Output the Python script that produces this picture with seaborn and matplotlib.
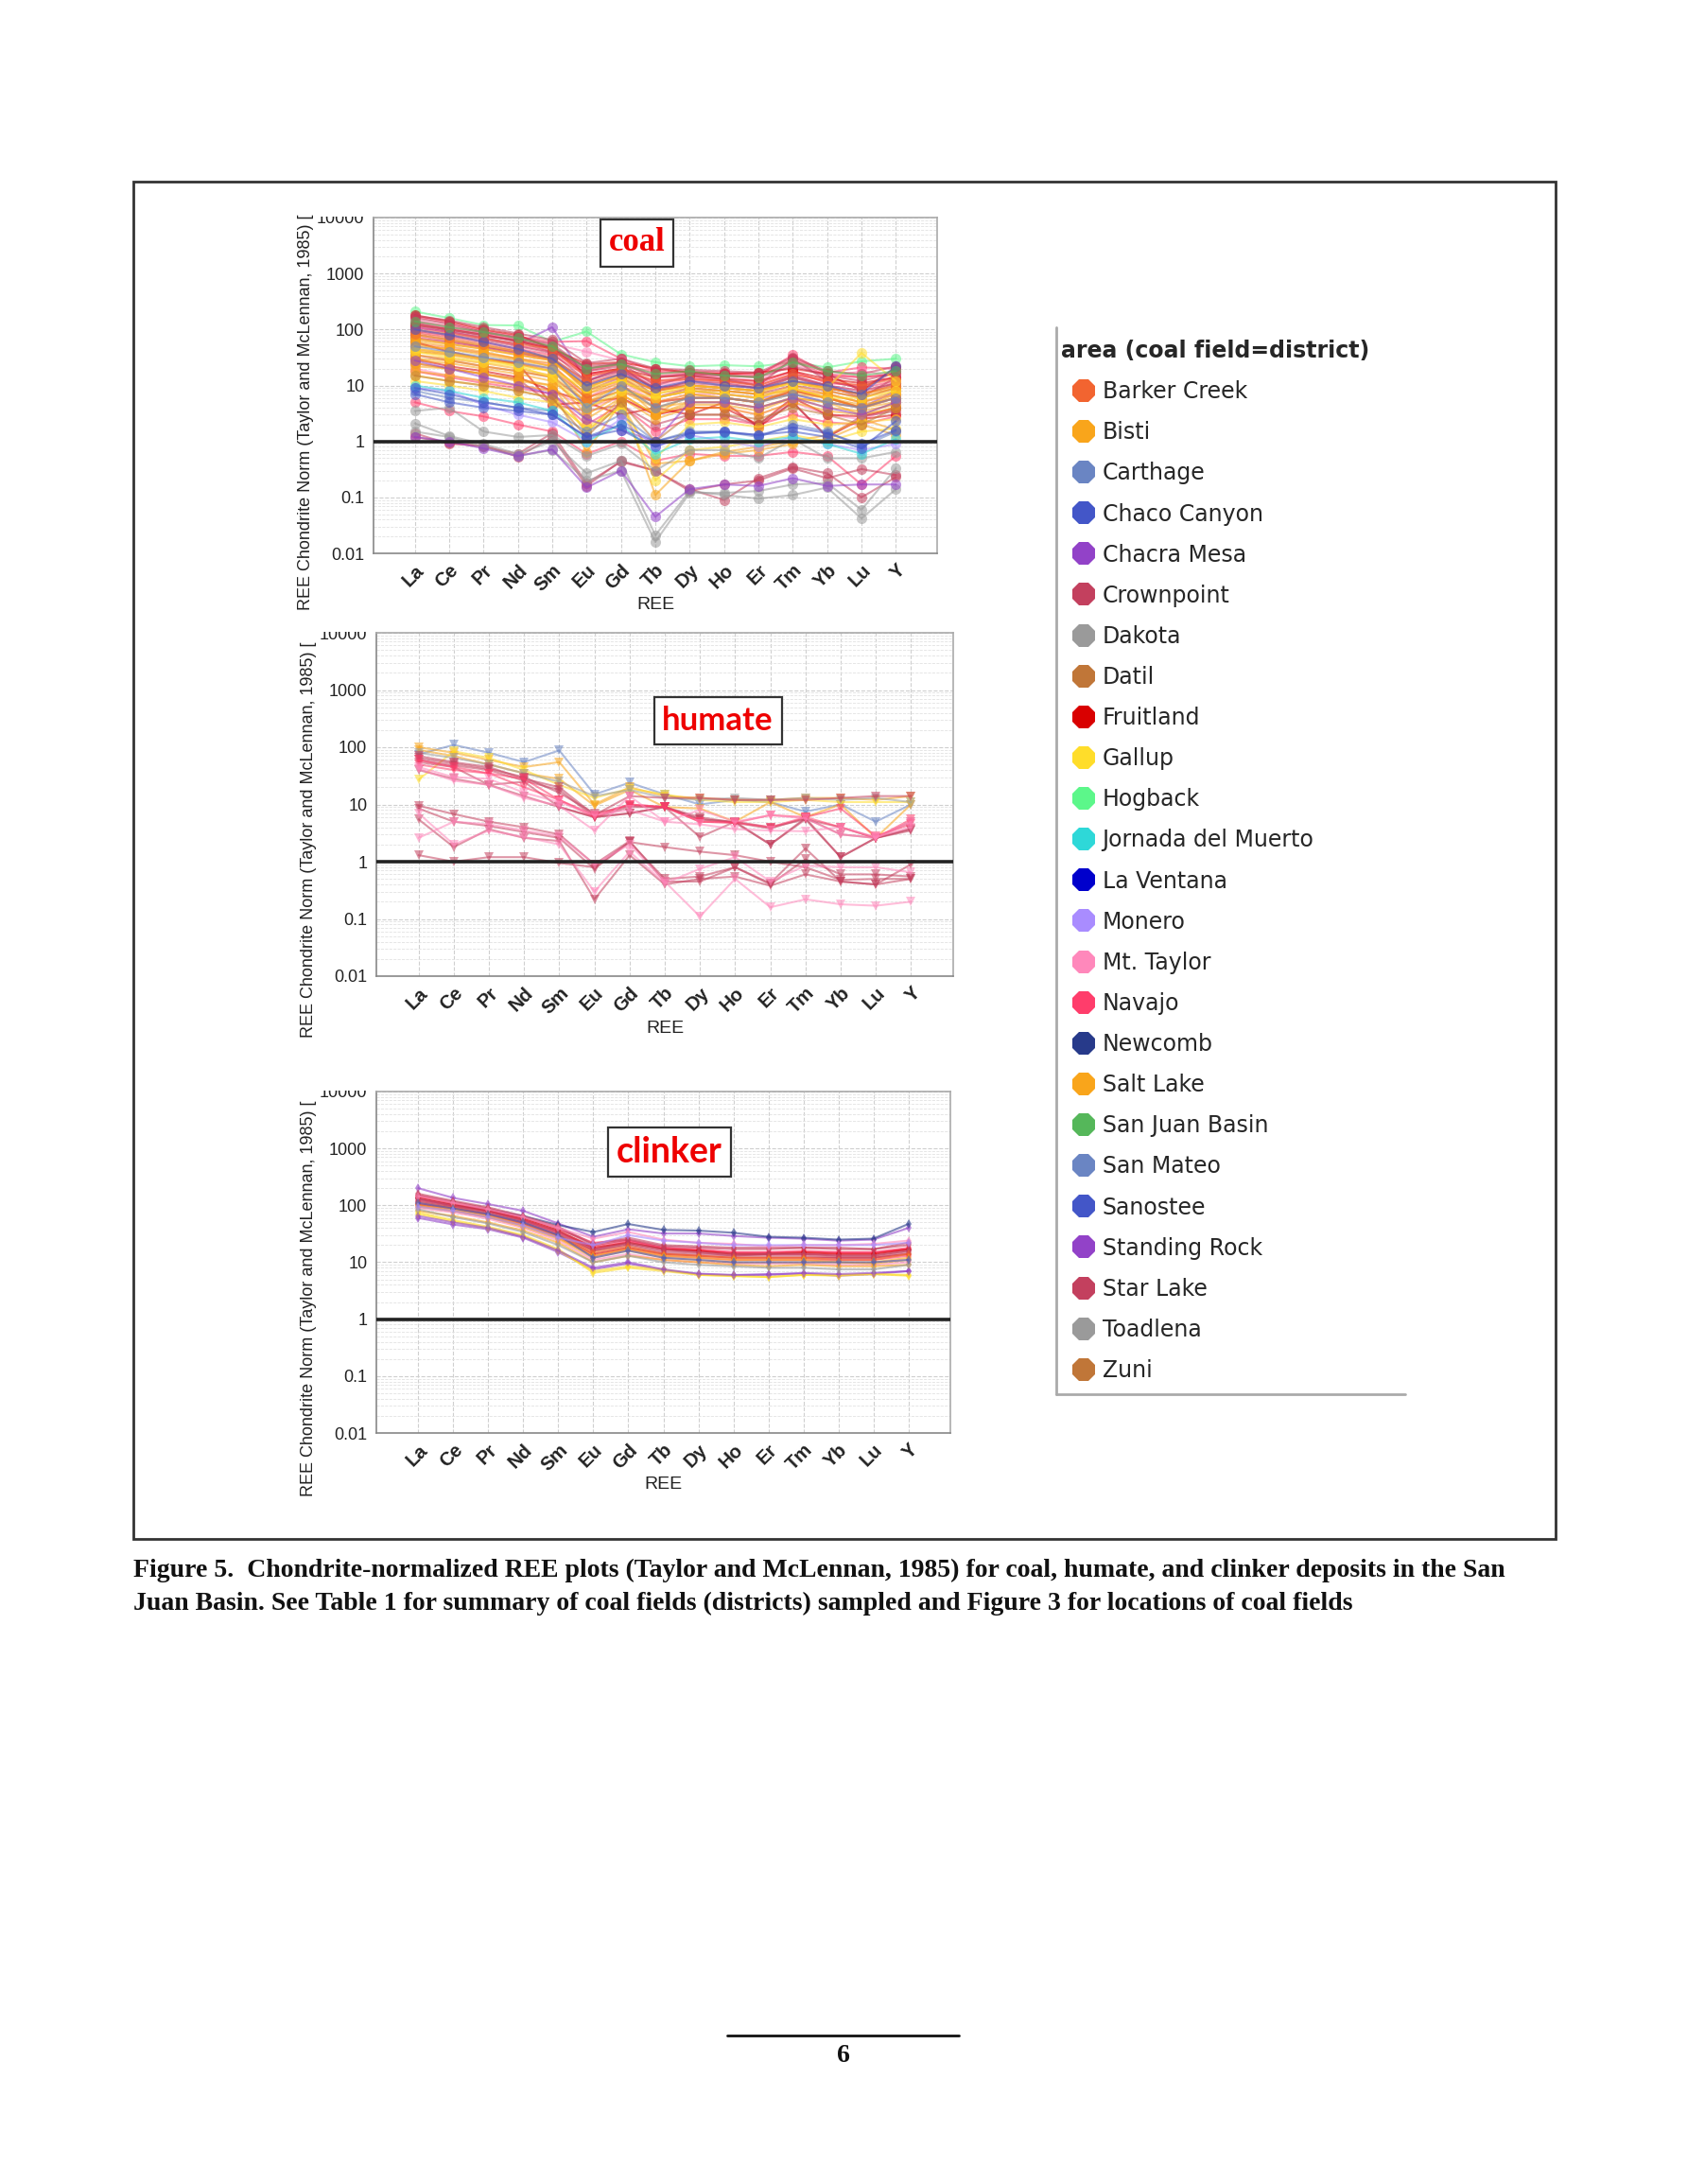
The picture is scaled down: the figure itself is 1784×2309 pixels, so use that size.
import numpy as np
import pandas as pd
import seaborn as sns
import matplotlib.pyplot as plt
from matplotlib.lines import Line2D
from matplotlib.patches import Rectangle
from matplotlib.transforms import Bbox, TransformedBbox

# REE order on the x axis
ree = ['La', 'Ce', 'Pr', 'Nd', 'Sm', 'Eu', 'Gd', 'Tb', 'Dy', 'Ho', 'Er', 'Tm', 'Yb', 'Lu', 'Y']
y_ticks = [0.01, 0.1, 1, 10, 100, 1000, 10000]
y_tick_labels = ['0.01', '0.1', '1', '10', '100', '1000', '10000']

areas = ['Barker Creek', 'Bisti', 'Carthage', 'Chaco Canyon', 'Chacra Mesa', 'Crownpoint',
         'Dakota', 'Datil', 'Fruitland', 'Gallup', 'Hogback', 'Jornada del Muerto',
         'La Ventana', 'Monero', 'Mt. Taylor', 'Navajo', 'Newcomb', 'Salt Lake',
         'San Juan Basin', 'San Mateo', 'Sanostee', 'Standing Rock', 'Star Lake',
         'Toadlena', 'Zuni']
area_colors = ['#f26430', '#f9a51b', '#6a85c3', '#4356c8', '#9242c8', '#c3405e',
               '#9a9a9a', '#c07638', '#d90000', '#ffdd2a', '#5cf78a', '#2ed8d8',
               '#0000cc', '#a98cff', '#ff88bb', '#ff3d6b', '#273a8a', '#f9a51b',
               '#55b75a', '#6a85c3', '#4356c8', '#9242c8', '#c3405e', '#9a9a9a',
               '#c07638']

# coal samples (chondrite normalised, order as ree)
coal_area = ['Hogback', 'Standing Rock', 'Navajo', 'Mt. Taylor', 'Fruitland', 'Crownpoint',
             'Star Lake', 'Bisti', 'Salt Lake', 'Barker Creek', 'Bisti', 'Salt Lake', 'Gallup',
             'Navajo', 'Crownpoint', 'Fruitland', 'Star Lake', 'Mt. Taylor', 'Carthage',
             'Sanostee', 'Dakota', 'Toadlena', 'Dakota', 'Chacra Mesa', 'Star Lake',
             'Crownpoint', 'Navajo', 'Monero', 'Gallup', 'Bisti', 'Salt Lake',
             'San Juan Basin', 'Jornada del Muerto', 'Datil', 'Barker Creek', 'Bisti',
             'Salt Lake', 'Star Lake', 'Navajo', 'Fruitland', 'Crownpoint', 'Chacra Mesa',
             'Gallup', 'Mt. Taylor', 'Bisti', 'Salt Lake', 'Chaco Canyon', 'Navajo',
             'Navajo', 'Star Lake', 'Crownpoint', 'Bisti', 'Salt Lake', 'Barker Creek',
             'Gallup', 'Fruitland', 'Mt. Taylor', 'Bisti', 'Salt Lake', 'Navajo',
             'Chaco Canyon', 'San Mateo', 'Star Lake']
coal_vals = [
    [210, 160, 120, 118, 60, 92, 36, 26, 22, 23, 22, 26, 21, 27, 30],
    [110, 90, 70, 55, 110, 12, 20, 6, 8, 7, 6, 7, 5, 4, 8],
    [170, 130, 95, 75, 60, 62, 30, 18, 18, 17, 16, 30, 17, 21, 20],
    [150, 110, 85, 70, 55, 40, 28, 14, 16, 14, 12, 25, 14, 18, 15],
    [180, 140, 100, 80, 45, 24, 26, 20, 17, 16, 17, 20, 16, 8, 21],
    [130, 100, 80, 60, 40, 22, 25, 10, 15, 13, 10, 30, 12, 9, 18],
    [120, 95, 75, 65, 48, 18, 22, 8, 12, 11, 9, 15, 10, 6, 14],
    [60, 50, 40, 30, 25, 10, 14, 7, 9, 8, 7, 12, 8, 6, 9],
    [70, 55, 45, 35, 28, 8, 12, 6, 8, 7, 6, 10, 7, 5, 8],
    [45, 38, 30, 25, 20, 6, 10, 5, 6, 6, 5, 8, 6, 4, 6],
    [35, 30, 25, 20, 15, 5, 8, 4, 5, 5, 4, 6, 5, 3, 5],
    [55, 45, 38, 30, 22, 7, 11, 3, 7, 6, 5, 9, 6, 4, 7],
    [40, 32, 26, 22, 18, 9, 12, 7, 10, 9, 8, 11, 9, 38, 12],
    [90, 75, 60, 45, 35, 15, 18, 12, 14, 12, 11, 18, 11, 10, 14],
    [25, 20, 16, 13, 4.5, 3.5, 4.5, 2, 3, 3, 2, 5, 1.2, 2.8, 3.5],
    [30, 22, 18, 14, 8, 5, 6, 3, 4, 4, 2, 6, 3, 2.8, 4],
    [80, 65, 50, 40, 30, 12, 20, 9, 10, 9, 8, 14, 9, 7, 11],
    [20, 15, 12, 10, 8, 4, 6, 3, 4, 4, 3, 5, 3, 2.5, 4],
    [8, 6, 5, 4, 3.5, 1.5, 3, 1, 1.5, 1.5, 1.2, 2, 1.5, 0.8, 1.5],
    [100, 80, 60, 45, 30, 10, 16, 9, 12, 10, 9, 12, 10, 7, 22],
    [3.5, 4, 1.5, 1.2, 1.3, 0.55, 0.9, 0.3, 0.7, 0.7, 0.5, 1.1, 0.5, 0.5, 0.65],
    [2.1, 1.25, 0.9, 0.6, 1.0, 0.27, 0.45, 0.021, 0.13, 0.11, 0.095, 0.11, 0.15, 0.042, 0.14],
    [1.5, 1.2, 0.8, 0.55, 0.7, 0.2, 0.3, 0.016, 0.12, 0.12, 0.13, 0.17, 0.18, 0.06, 0.33],
    [1.2, 1.0, 0.75, 0.55, 0.72, 0.15, 0.3, 0.045, 0.14, 0.17, 0.16, 0.22, 0.16, 0.17, 0.17],
    [1.4, 0.9, 0.85, 0.53, 1.2, 0.16, 0.45, 0.3, 0.14, 0.09, 0.22, 0.35, 0.27, 0.1, 0.23],
    [1.2, 0.95, 0.8, 0.6, 1.4, 0.18, 0.43, 0.3, 0.13, 0.17, 0.2, 0.33, 0.22, 0.32, 0.25],
    [5, 3.5, 2.8, 2.0, 1.5, 0.6, 1.0, 0.45, 0.6, 0.55, 0.55, 0.65, 0.55, 0.17, 0.55],
    [9, 8, 4.5, 3, 2.2, 1, 2.5, 0.8, 1.3, 1, 0.8, 1.2, 0.9, 0.7, 0.9],
    [12, 10, 8, 6, 5, 1.8, 4, 0.2, 0.7, 0.8, 1, 1.3, 1, 1.5, 1.7],
    [25, 20, 16, 12, 10, 1.4, 6, 0.11, 0.45, 0.65, 0.8, 1.0, 1.3, 2.5, 1.6],
    [18, 15, 12, 10, 8, 0.65, 5, 0.4, 0.45, 0.6, 0.7, 0.9, 1.1, 2.0, 1.3],
    [140, 110, 90, 70, 50, 20, 24, 16, 18, 15, 14, 26, 18, 15, 18],
    [10, 8, 6, 5, 3.5, 1, 2, 0.6, 1.1, 1.2, 1.0, 1.2, 0.9, 0.6, 1.1],
    [15, 12, 10, 8, 6, 1.2, 5, 1, 3, 3, 2.5, 4, 3, 2, 4],
    [100, 85, 70, 55, 45, 14, 20, 12, 13, 12, 10, 16, 12, 10, 13],
    [50, 45, 35, 28, 22, 7, 13, 6, 8, 8, 7, 8, 7, 5, 7],
    [65, 55, 45, 35, 28, 9, 15, 8, 10, 9, 8, 12, 9, 7, 10],
    [160, 125, 90, 72, 55, 20, 25, 14, 16, 15, 14, 22, 15, 12, 17],
    [110, 90, 70, 52, 40, 16, 20, 11, 13, 12, 10, 16, 12, 9, 12],
    [60, 40, 30, 25, 4.5, 5, 3, 4, 3, 5, 1.8, 5, 1.2, 2.5, 3],
    [35, 28, 22, 18, 14, 5, 8, 5, 6, 6, 5, 8, 6, 4, 6],
    [28, 20, 14, 10, 7, 2.5, 1.6, 1.0, 5, 5, 4, 6, 4, 3, 5],
    [45, 38, 30, 22, 14, 4, 8, 6, 8, 7, 6, 9, 6, 6, 8],
    [75, 60, 48, 38, 28, 10, 18, 10, 12, 11, 9, 15, 10, 8, 11],
    [40, 35, 28, 24, 18, 6, 9, 5, 7, 6, 5, 7, 6, 4, 6],
    [30, 28, 22, 18, 14, 3, 7, 3, 5, 5, 4, 6, 5, 4, 5],
    [7, 5, 4, 3.5, 3, 1.2, 1.6, 0.8, 1.4, 1.45, 1.3, 1.5, 1.2, 0.75, 2.3],
    [130, 105, 85, 62, 45, 18, 24, 17, 17, 16, 15, 35, 16, 14, 16],
    [140, 115, 88, 68, 50, 20, 24, 15, 16, 15, 14, 28, 15, 14, 16],
    [95, 80, 65, 50, 38, 12, 18, 9, 11, 10, 9, 14, 10, 8, 11],
    [70, 60, 48, 38, 30, 8, 14, 6, 9, 8, 7, 10, 8, 6, 9],
    [28, 25, 20, 16, 12, 4, 7, 3, 4.5, 4.5, 3.5, 6, 4, 3.5, 4.5],
    [22, 20, 16, 13, 10, 2.5, 6, 2.5, 4, 4, 3, 5, 3.5, 3, 4],
    [85, 70, 55, 42, 32, 11, 16, 8, 10, 9, 8, 12, 9, 7, 10],
    [15, 12, 10, 8, 6, 1.6, 4, 0.5, 2, 2.2, 1.8, 2.5, 2, 2.2, 2.5],
    [120, 100, 80, 62, 45, 16, 20, 14, 15, 13, 12, 18, 13, 11, 14],
    [55, 48, 38, 30, 24, 6, 12, 5, 7, 7, 6, 9, 7, 5, 7],
    [80, 65, 52, 40, 30, 9, 16, 8, 10, 9, 8, 11, 9, 7, 9],
    [42, 36, 30, 24, 18, 5, 10, 4, 6, 6, 5, 8, 6, 4.5, 6],
    [18, 14, 11, 9, 7, 2, 4.5, 1.5, 2.5, 2.5, 2, 3, 2.2, 2, 2.8],
    [9, 7, 5, 4, 3, 1.2, 2, 1.0, 1.4, 1.5, 1.3, 1.8, 1.4, 0.9, 1.6],
    [50, 40, 32, 26, 20, 4, 10, 4, 6, 6, 5, 7, 5, 4, 6],
    [175, 145, 110, 85, 65, 25, 30, 20, 19, 18, 17, 32, 18, 16, 22],
]

# humate samples
humate_area = ['Carthage', 'Bisti', 'Salt Lake', 'Gallup', 'Dakota', 'Star Lake', 'Crownpoint',
               'Star Lake', 'Navajo', 'Mt. Taylor', 'Crownpoint', 'Star Lake', 'Crownpoint',
               'Star Lake', 'Mt. Taylor', 'Crownpoint', 'Mt. Taylor', 'Star Lake', 'Navajo',
               'Mt. Taylor']
humate_vals = [
    [75, 110, 80, 55, 88, 15, 24, 15, 10, 12, 11, 7.5, 10, 5, 10],
    [100, 80, 60, 45, 55, 10, 20, 14, 13, 12, 12, 13, 13, 12, 14],
    [90, 70, 50, 35, 28, 9.5, 18, 9, 8.5, 5, 11, 6, 10, 2.6, 10],
    [27, 85, 65, 40, 22, 13, 19, 15, 12, 11, 11, 12, 11, 11, 11],
    [80, 65, 50, 35, 25, 14, 18, 13, 12, 13, 12, 13, 12, 13, 11],
    [70, 55, 45, 28, 20, 6.5, 14, 13, 13, 12, 12, 12, 13, 14, 14],
    [60, 48, 40, 26, 18, 6, 9, 9, 5.5, 5, 4, 5.5, 4, 2.6, 5],
    [55, 45, 22, 25, 9, 6, 7, 9, 2.7, 5, 2, 5.5, 1.2, 2.6, 3.5],
    [50, 40, 35, 20, 12, 6, 10, 9, 5, 4.8, 6.5, 6, 8.5, 2.8, 4.5],
    [45, 30, 28, 16, 11, 6.5, 8, 5, 4.5, 3.7, 3.5, 3.4, 4, 2.7, 4],
    [40, 28, 22, 14, 9, 6, 7, 9, 5.5, 4.8, 3.8, 5.8, 3, 2.6, 3.8],
    [65, 52, 42, 30, 16, 7, 9.5, 9, 6, 4.8, 2, 5.8, 1.2, 2.6, 3.7],
    [9.5, 6.8, 5, 4, 3, 0.9, 2.3, 0.45, 0.45, 0.8, 0.42, 1.7, 0.45, 0.4, 0.9],
    [8.5, 5, 4.2, 3.3, 2.6, 0.75, 2.2, 0.5, 0.55, 0.8, 0.4, 1.1, 0.6, 0.6, 0.55],
    [7, 2, 3.5, 2.7, 2, 0.3, 1.5, 0.42, 0.75, 1.2, 0.45, 0.85, 0.8, 0.8, 0.65],
    [5.5, 1.8, 3.7, 2.6, 2.3, 0.22, 1.3, 0.4, 0.5, 0.55, 0.38, 0.6, 0.45, 0.4, 0.5],
    [2.6, 5, 4.5, 3.5, 2.8, 0.9, 2, 0.45, 0.11, 0.5, 0.16, 0.22, 0.18, 0.17, 0.2],
    [1.3, 1.0, 1.2, 1.2, 0.95, 0.8, 2.2, 1.8, 1.5, 1.3, 1.0, 0.8, 0.48, 0.5, 0.5],
    [60, 45, 35, 28, 12, 6.5, 10, 9, 5, 4.8, 4, 6, 4, 2.6, 5.5],
    [42, 26, 22, 13, 9.5, 3.5, 14, 5, 8, 5, 6.5, 5.7, 3, 2.6, 5],
]

# clinker samples
clinker_area = ['Standing Rock', 'Newcomb', 'Navajo', 'Fruitland', 'Star Lake', 'Crownpoint',
                'Mt. Taylor', 'Barker Creek', 'Bisti', 'Salt Lake', 'Navajo', 'Gallup',
                'Chacra Mesa', 'Standing Rock', 'Dakota', 'Star Lake', 'Navajo', 'Fruitland',
                'Crownpoint', 'Mt. Taylor', 'Gallup', 'Salt Lake', 'Navajo', 'Star Lake',
                'Chaco Canyon', 'Monero']
clinker_vals = [
    [200, 135, 105, 80, 48, 28, 38, 32, 32, 29, 27, 26, 24, 25, 40],
    [130, 100, 85, 65, 45, 34, 47, 37, 36, 33, 28, 27, 25, 26, 47],
    [150, 110, 85, 60, 38, 22, 25, 18, 17, 15, 15, 16, 15, 15, 18],
    [140, 105, 80, 58, 36, 18, 22, 17, 16, 14, 14, 15, 14, 14, 17],
    [130, 100, 80, 55, 35, 17, 22, 17, 15, 13, 14, 14, 13, 13, 16],
    [120, 95, 75, 52, 32, 16, 20, 15, 14, 13, 13, 13, 12, 12, 15],
    [145, 110, 85, 62, 40, 26, 34, 25, 22, 21, 19, 20, 20, 21, 24],
    [110, 90, 70, 50, 30, 15, 19, 14, 13, 12, 12, 12, 11, 11, 14],
    [100, 85, 65, 45, 28, 13, 17, 13, 12, 11, 11, 11, 10, 10, 12],
    [95, 80, 62, 42, 26, 12, 16, 12, 11, 10, 10, 10, 10, 9.5, 11],
    [135, 100, 80, 55, 34, 19, 24, 17, 16, 14, 14, 14, 14, 14, 17],
    [75, 55, 42, 30, 17, 6.5, 8, 7, 6, 5.7, 5.5, 6, 6, 6.2, 6],
    [65, 50, 40, 28, 16, 8, 10, 7.5, 6.3, 6, 6, 6.5, 6.2, 6.5, 7],
    [60, 46, 38, 27, 15, 7.5, 9.5, 7.2, 6.2, 5.9, 6.2, 6.3, 5.8, 6.2, 7],
    [85, 62, 48, 34, 20, 10, 13, 10, 9, 8.5, 8, 8, 7.5, 7.5, 9],
    [115, 92, 72, 50, 30, 16, 21, 16, 15, 14, 14, 14, 13, 13, 16],
    [125, 98, 78, 54, 33, 17, 23, 18, 16, 15, 15, 15, 15, 15, 17],
    [105, 88, 68, 48, 29, 14, 18, 14, 13, 12, 12, 12, 12, 12, 14],
    [150, 115, 88, 62, 40, 20, 25, 19, 18, 17, 17, 18, 17, 17, 22],
    [90, 75, 58, 40, 24, 11, 14, 11, 10, 9.5, 9.5, 9.5, 9, 9, 10],
    [70, 52, 40, 29, 16, 7, 8.5, 7.5, 6, 5.8, 5.5, 6, 5.8, 6.2, 5.8],
    [80, 65, 50, 36, 22, 10, 13, 11, 10, 9, 8.5, 9, 8.5, 8.5, 9],
    [100, 80, 62, 45, 27, 13, 17, 13, 12, 11, 11, 11, 11, 11, 13],
    [160, 120, 92, 65, 42, 21, 27, 20, 19, 18, 18, 18, 18, 17, 20],
    [110, 88, 70, 50, 30, 12, 16, 12, 11, 10, 10, 10, 10, 10, 11],
    [95, 80, 62, 44, 27, 20, 30, 24, 22, 20, 20, 20, 20, 20, 22],
]

caption1 = ('Figure 5.  Chondrite-normalized REE plots (Taylor and McLennan, 1985) for coal, '
            'humate, and clinker deposits in the San')
caption2 = ('Juan Basin. See Table 1 for summary of coal fields (districts) sampled and '
            'Figure 3 for locations of coal fields')


def long_form(area_list, rows):
    recs = []
    for i, (a, r) in enumerate(zip(area_list, rows)):
        for j, v in enumerate(r):
            recs.append({'sample': i, 'area': a, 'pos': j, 'value': v})
    return pd.DataFrame(recs)


sns.set_theme(style='white')
plt.rcParams['font.family'] = ['Liberation Sans', 'DejaVu Sans']

W, H = 1784, 2309
fig = plt.figure(figsize=(W / 100, H / 100), dpi=100)
fig.patch.set_facecolor('white')
palette = dict(zip(areas, area_colors))


def add_ax(l, t, r, b):
    return fig.add_axes([l / W, 1 - b / H, (r - l) / W, (b - t) / H])


panels = [
    # data, area list, box, marker, msize, alpha, title, title pos, title font, ylabel y
    (coal_vals, coal_area, (395, 230, 991, 585), 'o', 8, 0.55, 'coal', (0.468, 0.924),
     dict(family='Liberation Serif', fontsize=25), 0.42),
    (humate_vals, humate_area, (398, 669, 1008, 1032), 'v', 7, 0.55, 'humate', (0.592, 0.744),
     dict(family='Lato', fontsize=25), 0.397),
    (clinker_vals, clinker_area, (398, 1154, 1005, 1515), 'd', 5.5, 0.6, 'clinker', (0.511, 0.823),
     dict(family='Lato', fontsize=27), 0.393),
]

for vals, alist, box, mk, ms, alpha, title, tpos, tfont, ylab_y in panels:
    ax = add_ax(*box)
    df = long_form(alist, vals)
    sns.lineplot(data=df, x='pos', y='value', hue='area', units='sample', estimator=None,
                 palette=palette, marker=mk, markersize=ms, markeredgewidth=0,
                 linewidth=1.5, alpha=alpha, sort=False, legend=False, ax=ax)
    ax.set_yscale('log')
    ax.set_ylim(0.01, 10000)
    ax.set_xlim(-1.2, len(ree) - 1 + 1.2)
    ax.set_yticks(y_ticks)
    ax.set_yticklabels(y_tick_labels, fontsize=13, color='#222')
    ax.yaxis.set_minor_locator(plt.matplotlib.ticker.LogLocator(base=10, subs=np.arange(2, 10)))
    ax.yaxis.set_minor_formatter(plt.matplotlib.ticker.NullFormatter())
    ax.set_xticks(range(len(ree)))
    ax.set_xticklabels(ree, rotation=45, ha='right', rotation_mode='anchor',
                       fontsize=14.5, fontweight='bold', color='#222')
    ax.tick_params(axis='y', which='major', length=4, width=1, color='#888', pad=3)
    ax.tick_params(axis='y', which='minor', length=2, width=0.8, color='#aaa')
    ax.tick_params(axis='x', length=0, pad=6)
    ax.grid(True, which='major', color='#cfcfcf', ls='--', lw=0.8)
    ax.grid(True, which='minor', axis='y', color='#e2e2e2', ls='--', lw=0.6)
    ax.set_axisbelow(True)
    ax.axhline(1, color='#222', lw=2.6, zorder=5)
    for s in ax.spines.values():
        s.set_color('#aaa')
        s.set_linewidth(1.2)
    ax.spines['left'].set_color('#888')
    ax.spines['bottom'].set_color('#888')
    ax.set_xlabel('REE', fontsize=14, color='#222')
    ax.xaxis.label.set_va('center')
    ax.xaxis.set_label_coords(0.5, -55 / (box[3] - box[1]))
    ax.set_ylabel('REE Chondrite Norm (Taylor and McLennan, 1985) [', fontsize=13, color='#222')
    ax.yaxis.set_label_coords(-63 / (box[2] - box[0]), ylab_y)
    ax.text(tpos[0], tpos[1], title, transform=ax.transAxes, ha='center', va='center',
            color='#ee0000', fontweight='bold', zorder=10,
            bbox=dict(boxstyle='square,pad=0.25', fc='white', ec='#333', lw=1.6), **tfont)
    # the top tick label is cut at the plot edge in the original
    top_lbl = ax.get_yticklabels()[-1]
    top_lbl.set_clip_on(True)
    top_lbl.set_clip_box(TransformedBbox(Bbox.from_extents(0, 0, box[0] / W, 1 - (box[1] - 1) / H),
                                         fig.transFigure))

# legend
handles = [Line2D([], [], ls='', marker='8', markersize=18, markeredgewidth=0, color=c)
           for c in area_colors]
leg = fig.legend(handles, areas, title='area (coal field=district)', loc='upper left',
                 bbox_to_anchor=(1122 / W, 1 - 359 / H), frameon=False,
                 prop=dict(family='DejaVu Sans', size=17), labelspacing=0.81,
                 handlelength=2.0, handletextpad=-0.15, borderpad=0, borderaxespad=0,
                 alignment='left')
leg.get_title().set_fontweight('bold')
leg.get_title().set_fontsize(17)
leg.get_title().set_family('DejaVu Sans')
fig.add_artist(Line2D([1117 / W, 1117 / W], [1 - 346 / H, 1 - 1474 / H],
                      transform=fig.transFigure, color='#aaa', lw=2))
fig.add_artist(Line2D([1117 / W, 1486 / W], [1 - 1474 / H, 1 - 1474 / H],
                      transform=fig.transFigure, color='#aaa', lw=2))

# outer frame
fig.add_artist(Rectangle((141 / W, 1 - 1627 / H), (1645 - 141) / W, (1627 - 192) / H,
                         transform=fig.transFigure, fill=False, ec='#333', lw=2))

# caption and page number
cap_font = dict(family='Liberation Serif', fontweight='bold', fontsize=20, color='#111')
fig.text(141 / W, 1 - 1660 / H, caption1, va='center', ha='left', **cap_font)
fig.text(141 / W, 1 - 1695 / H, caption2, va='center', ha='left', **cap_font)
fig.add_artist(Line2D([769 / W, 1014 / W], [1 - 2152 / H, 1 - 2152 / H],
                      transform=fig.transFigure, color='#111', lw=2))
fig.text(892 / W, 1 - 2173 / H, '6', va='center', ha='center', **cap_font)

fig.savefig('out.png', dpi=100, facecolor='white')
